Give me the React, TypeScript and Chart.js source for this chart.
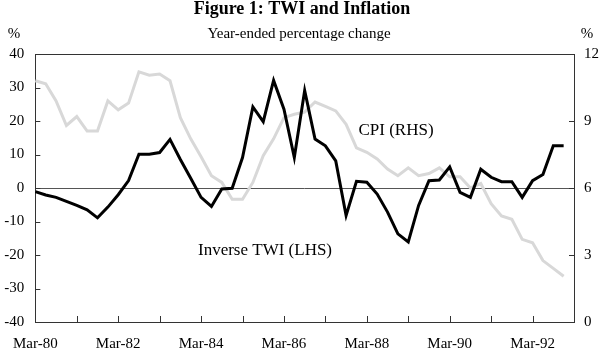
import React, { useEffect, useRef } from "react";
import { Chart, registerables } from "chart.js";

Chart.register(...registerables);

const years = ["80", "81", "82", "83", "84", "85", "86", "87", "88", "89", "90", "91", "92", "93"];
const months = ["Mar", "Jun", "Sep", "Dec"];
const quarters: string[] = [];
years.forEach((y) => months.forEach((m) => quarters.push(`${m}-${y}`)));
const categories = quarters.slice(0, 53); // Mar-80 .. Mar-93

const inverseTWI = [
  -1.1, -2.1, -2.8, -4.0, -5.2, -6.5, -8.9, -5.7, -2.0, 2.2, 10.1, 10.1, 10.6,
  14.5, 8.5, 2.9, -2.8, -5.5, -0.3, -0.1, 9.1, 24.2, 19.8, 32.1, 23.5, 9.1,
  29.1, 14.6, 12.6, 8.1, -8.2, 2.0, 1.7, -1.8, -7.2, -13.7, -16.1, -5.2, 2.2,
  2.4, 6.3, -1.3, -2.8, 5.6, 3.2, 1.9, 1.9, -2.8, 2.2, 4.0, 12.6, 12.6,
];

const cpi = [
  10.8, 10.67, 9.9, 8.8, 9.2, 8.55, 8.55, 9.9, 9.5, 9.8, 11.2, 11.05, 11.1,
  10.8, 9.15, 8.2, 7.4, 6.55, 6.25, 5.5, 5.5, 6.25, 7.45, 8.2, 9.15, 9.3,
  9.4, 9.85, 9.65, 9.45, 8.85, 7.8, 7.6, 7.3, 6.85, 6.55, 6.9, 6.55, 6.65,
  6.9, 6.5, 6.5, 6.0, 6.2, 5.3, 4.75, 4.6, 3.7, 3.55, 2.75, 2.4, 2.05,
];

const leftTicks = [-40, -30, -20, -10, 0, 10, 20, 30, 40];
const rightTicks = [0, 3, 6, 9, 12];

const titleText = "Figure 1: TWI and Inflation";
const subtitleText = "Year-ended percentage change";
const cpiLabel = "CPI (RHS)";
const twiLabel = "Inverse TWI (LHS)";

const FONT = "'Liberation Serif', 'Times New Roman', serif";

const decorPlugin = {
  id: "decor",
  beforeDatasetsDraw(chart: any) {
    const { ctx, chartArea } = chart;
    const { left, right, top, bottom } = chartArea;
    const y = chart.scales.y;
    const y1 = chart.scales.y1;
    const x = chart.scales.x;
    ctx.save();
    ctx.strokeStyle = "#555555";
    ctx.lineWidth = 1;
    const zy = Math.round(y.getPixelForValue(0)) + 0.5;
    ctx.beginPath();
    ctx.moveTo(left, zy);
    ctx.lineTo(right, zy);
    ctx.stroke();
    ctx.strokeStyle = "#333333";
    ctx.strokeRect(Math.round(left) + 0.5, Math.round(top) + 0.5, Math.round(right - left), Math.round(bottom - top));
    ctx.beginPath();
    leftTicks.forEach((v) => {
      const py = Math.round(y.getPixelForValue(v)) + 0.5;
      ctx.moveTo(left, py);
      ctx.lineTo(left + 5, py);
    });
    rightTicks.forEach((v) => {
      const py = Math.round(y1.getPixelForValue(v)) + 0.5;
      ctx.moveTo(right, py);
      ctx.lineTo(right - 5, py);
    });
    categories.forEach((_, i) => {
      if (i % 4 === 0) {
        const px = Math.round(x.getPixelForValue(i)) + 0.5;
        ctx.moveTo(px, bottom);
        ctx.lineTo(px, bottom - 6);
      }
    });
    ctx.stroke();
    ctx.restore();
  },
  afterDraw(chart: any) {
    const { ctx } = chart;
    ctx.save();
    ctx.fillStyle = "#000000";
    ctx.textAlign = "center";
    ctx.textBaseline = "alphabetic";
    ctx.font = `bold 18px ${FONT}`;
    ctx.fillText(titleText, 302, 14);
    ctx.font = `15px ${FONT}`;
    ctx.fillText(subtitleText, 299, 38);
    ctx.fillText("%", 14, 38);
    ctx.fillText("%", 587, 38);
    ctx.font = `17px ${FONT}`;
    ctx.textBaseline = "middle";
    ctx.fillText(cpiLabel, 396, 131);
    ctx.fillText(twiLabel, 265, 251);
    ctx.restore();
  },
};

export default function App() {
  const ref = useRef<HTMLCanvasElement>(null);
  useEffect(() => {
    document.body.style.margin = "0";
    const tickFont = { family: FONT, size: 15 };
    const chart = new Chart(ref.current!, {
      type: "line",
      data: {
        labels: categories,
        datasets: [
          {
            label: twiLabel,
            data: inverseTWI,
            yAxisID: "y",
            borderColor: "#000000",
            borderWidth: 3,
            pointRadius: 0,
            tension: 0,
            fill: false,
          },
          {
            label: cpiLabel,
            data: cpi,
            yAxisID: "y1",
            borderColor: "#d8d8d8",
            borderWidth: 3,
            pointRadius: 0,
            tension: 0,
            fill: false,
          },
        ],
      },
      options: {
        responsive: false,
        animation: false,
        devicePixelRatio: 1,
        layout: { padding: { top: 54, left: 0, right: 0, bottom: 0 } },
        plugins: { legend: { display: false }, tooltip: { enabled: false }, title: { display: false } },
        scales: {
          x: {
            type: "category",
            offset: false,
            grid: { display: false, drawTicks: false },
            border: { display: false },
            ticks: {
              autoSkip: false,
              maxRotation: 0,
              minRotation: 0,
              padding: 13,
              color: "#000000",
              font: tickFont,
              callback: (_v: any, i: number) => (i % 8 === 0 ? categories[i] : ""),
            },
            afterFit: (s: any) => {
              s.height = 27;
            },
          },
          y: {
            position: "left",
            min: -40,
            max: 40,
            grid: { display: false, drawTicks: false },
            border: { display: false },
            ticks: { stepSize: 10, padding: 11, color: "#000000", font: tickFont },
            afterFit: (s: any) => {
              s.width = 31;
            },
          },
          y1: {
            position: "right",
            min: 0,
            max: 12,
            grid: { display: false, drawTicks: false },
            border: { display: false },
            ticks: { stepSize: 3, padding: 10, color: "#000000", font: tickFont },
            afterFit: (s: any) => {
              s.width = 26;
            },
          },
        },
      },
      plugins: [decorPlugin],
    } as any);
    return () => chart.destroy();
  }, []);
  return (
    <div style={{ position: "fixed", left: 0, top: 0, width: 600, height: 349, background: "#fff" }}>
      <canvas ref={ref} width={600} height={349} />
    </div>
  );
}
